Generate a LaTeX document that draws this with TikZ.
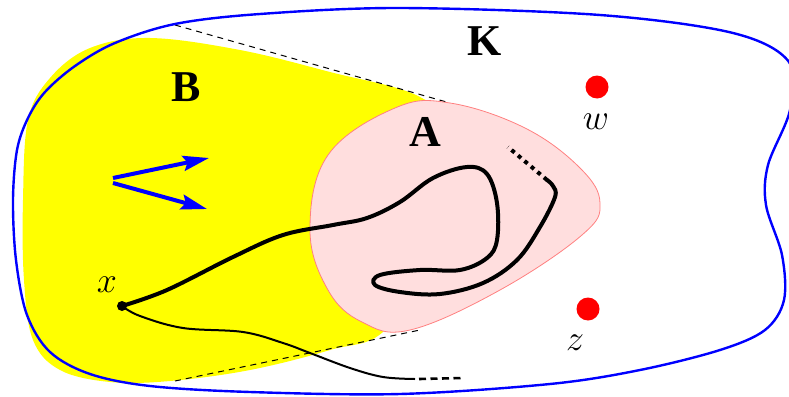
\RequirePackage{fix-cm}
\documentclass[tikz,border=0pt]{standalone}
\usepackage{fontspec}
\newfontfamily\timesfont{Liberation Serif}
\usetikzlibrary{arrows.meta}
\definecolor{pinkfill}{RGB}{255,222,222}
\definecolor{pinkline}{RGB}{255,128,128}
\definecolor{yel}{RGB}{255,255,0}
\begin{document}
\begin{tikzpicture}[x=1pt,y=-1pt,
  biglabel/.style={font=\fontsize{44}{44}\selectfont\timesfont\bfseries, inner sep=0pt},
  mathlabel/.style={font=\fontsize{36}{36}\selectfont, inner sep=0pt},
  reddot/.style={circle, fill=red, minimum size=23pt, inner sep=0pt},
  blueline/.style={draw=blue, line width=2.4pt},
  tangent/.style={black, line width=1pt, dash pattern=on 6pt off 5pt},
  thickpath/.style={black, line width=4pt, line cap=round, line join=round},
  thinpath/.style={black, line width=2pt},
  motion/.style={blue, line width=4pt, -{Stealth[length=26pt, width=15pt, inset=4pt]}}]
\useasboundingbox (0,0) rectangle (789,396);
% region B (yellow)
\fill[yel] plot[smooth cycle, tension=0.6] coordinates {
  (150,38) (240,50) (330,72) (420,97) (455,140) (430,250) (385,330)
  (330,350) (250,370) (170,381) (110,382) (60,370) (33,340) (24,280)
  (23,200) (28,120) (50,78) (90,48)};
% tangent dashed lines
\draw[tangent] (175,25) -- (450,103);
\draw[tangent] (175,381) -- (420,330);
% region A (pink)
\filldraw[fill=pinkfill, draw=pinkline, line width=0.8pt] plot[smooth cycle, tension=0.65] coordinates {
  (310,230) (328,155) (395,108) (450,103) (525,128) (580,168) (600,203)
  (582,235) (500,290) (410,330) (362,322) (328,290)};
% set K (blue)
\draw[blueline] plot[smooth cycle, tension=0.55] coordinates {
  (400,8) (600,15) (733,33) (789,62) (790,110) (768,165) (766,205)
  (782,255) (784,300) (765,330) (720,350) (640,370) (550,384) (400,394)
  (250,392) (150,386) (90,374) (50,352) (27,315) (16,260) (13,200)
  (17,150) (28,118) (45,92) (75,66) (115,43) (175,24) (260,14)};
% labels
\node[biglabel] (K) at (485,41) {K};
\node[biglabel] (B) at (186,87) {B};
\node[biglabel] (A) at (425,132) {A};
% points w, z
\node[reddot] (wdot) at (597,87) {};
\node[reddot] (zdot) at (588,309) {};
\node[mathlabel] (w) at (596,122) {$w$};
\node[mathlabel] (z) at (575,343) {$z$};
% point x
\node[circle, fill=black, minimum size=10pt, inner sep=0pt] (xdot) at (122,306) {};
\node[mathlabel] (x) at (107,285) {$x$};
% motion arrows
\coordinate (a1s) at (113,178);
\coordinate (a1e) at (209,158);
\coordinate (a2s) at (113,183);
\coordinate (a2e) at (207,209);
\draw[motion] (a1s) -- (a1e);
\draw[motion] (a2s) -- (a2e);
% thick path through A
\coordinate (tend) at (547,180);
\coordinate (tdot) at (508,147);
\draw[thickpath] plot[smooth, tension=0.6] coordinates {
  (122,306) (167,290) (233,257) (283,235) (333,225) (367,218) (400,202)
  (433,178) (467,167) (487,174) (497,203) (497,240) (487,258) (460,270)
  (420,270) (380,275) (375,285) (400,292) (440,294) (483,283) (517,260)
  (540,227) (555,197) (553,186) (547,180)};
\draw[black, line width=4pt, dash pattern=on 4pt off 4.5pt] (tend) -- (tdot);
% thin path
\coordinate (send) at (415,379);
\coordinate (sdash) at (463,378);
\draw[thinpath] plot[smooth, tension=0.6] coordinates {
  (122,306) (140,316) (183,328) (243,332) (283,343) (310,353) (350,368)
  (383,377) (415,379)};
\draw[black, line width=2.6pt, dash pattern=on 7pt off 4.5pt] ([xshift=4pt]send) -- (sdash);
\end{tikzpicture}
\end{document}
